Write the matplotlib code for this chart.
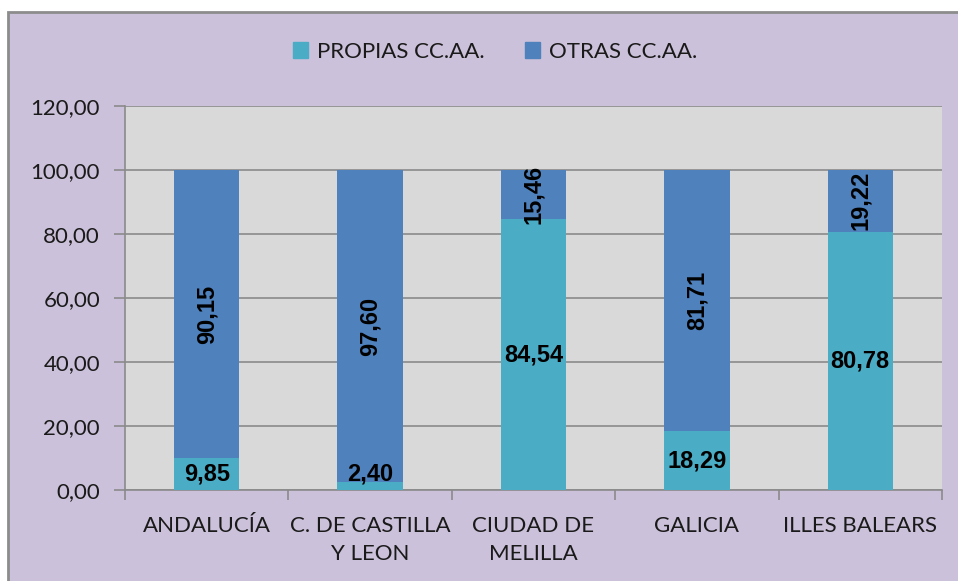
import matplotlib
matplotlib.use("Agg")
import matplotlib.pyplot as plt
from matplotlib.patches import Rectangle, Patch
import numpy as np

# data
regions = ["ANDALUCÍA", "C. DE CASTILLA\nY LEON", "CIUDAD DE\nMELILLA", "GALICIA", "ILLES BALEARS"]
propias = [9.85, 2.40, 84.54, 18.29, 80.78]
otras = [90.15, 97.60, 15.46, 81.71, 19.22]
yticks = [0, 20, 40, 60, 80, 100, 120]

c_prop = "#4BACC6"
c_otras = "#4F81BD"
bg = "#CCC1DA"
plot_bg = "#D9D9D9"
txt = "#1A1A1A"
fs = 16

plt.rcParams["font.family"] = ["Lato", "DejaVu Sans"]

W, H = 958, 581
fig = plt.figure(figsize=(W / 100, H / 100), dpi=100)
fig.patch.set_facecolor("white")
fig.patches.append(Rectangle((8 / W, -0.05), 1.1, 1 - 12 / H + 0.05, transform=fig.transFigure,
                             facecolor=bg, edgecolor="#8C8C8C", linewidth=2, zorder=-10))

ax = fig.add_axes([125 / W, 1 - 490 / H, (942 - 125) / W, (490 - 106) / H])
ax.set_zorder(1)
ax.set_facecolor(plot_bg)

x = np.arange(len(regions))
w = 0.4
ax.bar(x, propias, w, color=c_prop, label="PROPIAS CC.AA.", zorder=3)
ax.bar(x, otras, w, bottom=propias, color=c_otras, label="OTRAS CC.AA.", zorder=3)

# data labels, bold like the reference
lab_font = dict(family=["Liberation Sans", "DejaVu Sans"], fontsize=17, fontweight="bold", color="black")
for i in range(len(regions)):
    yb = max(propias[i] / 2, 5.0)
    ax.text(x[i], yb, f"{propias[i]:.2f}".replace(".", ","), ha="center", va="center",
            zorder=4, **lab_font)
    yt = propias[i] + otras[i] / 2
    ax.text(x[i], yt, f"{otras[i]:.2f}".replace(".", ","), ha="center", va="center",
            rotation=90, zorder=4, **lab_font)

ax.set_xlim(-0.5, len(regions) - 0.5)
ax.set_ylim(0, 120)
ax.set_yticks(yticks)
ax.set_yticklabels([f"{v:.2f}".replace(".", ",") for v in yticks], fontsize=fs, color=txt)
ax.yaxis.grid(True, color="#8A8A8A", linewidth=1.2, zorder=1)
ax.set_axisbelow(True)
ax.tick_params(axis="y", length=8, width=1.2, color="#8A8A8A", pad=10)

ax.set_xticks(x)
ax.set_xticklabels(regions, fontsize=fs, color=txt, linespacing=1.5)
ax.set_xticks(np.arange(-0.5, len(regions)), minor=True)
ax.tick_params(axis="x", which="major", length=0, pad=19)
ax.tick_params(axis="x", which="minor", length=7, width=1.2, color="#8A8A8A")

for s in ["top", "right"]:
    ax.spines[s].set_visible(False)
ax.spines["left"].set_color("#8A8A8A")
ax.spines["bottom"].set_color("#8A8A8A")
ax.spines["left"].set_linewidth(1.2)
ax.spines["bottom"].set_linewidth(1.2)

handles = [Patch(color=c_prop), Patch(color=c_otras)]
fig.legend(handles, ["PROPIAS CC.AA.", "OTRAS CC.AA."], loc="center",
           bbox_to_anchor=(495 / W, 1 - 52 / H), ncol=2, frameon=False,
           fontsize=fs, handlelength=0.7, handleheight=0.7, handletextpad=0.4,
           columnspacing=1.8, labelcolor=txt)

fig.savefig("out.png", dpi=100, facecolor=fig.get_facecolor())
